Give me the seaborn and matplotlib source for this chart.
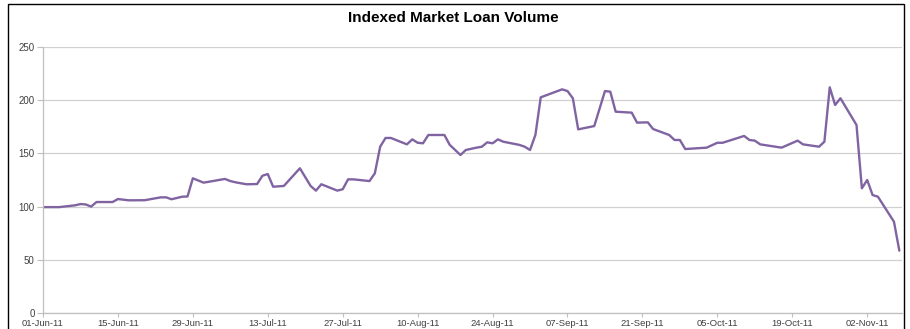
import matplotlib
matplotlib.use("Agg")
import matplotlib.pyplot as plt
import matplotlib.dates as mdates
import matplotlib.patches as mpatches
import pandas as pd
import seaborn as sns

# ---- data ----
dates = [
    "2011-06-01", "2011-06-04", "2011-06-07", "2011-06-08", "2011-06-09", "2011-06-10",
    "2011-06-11", "2011-06-14", "2011-06-15", "2011-06-17", "2011-06-20", "2011-06-23",
    "2011-06-24", "2011-06-25", "2011-06-27", "2011-06-28", "2011-06-29", "2011-07-01",
    "2011-07-05", "2011-07-06", "2011-07-07", "2011-07-09", "2011-07-11", "2011-07-12",
    "2011-07-13", "2011-07-14", "2011-07-16", "2011-07-19", "2011-07-21", "2011-07-22",
    "2011-07-23", "2011-07-26", "2011-07-27", "2011-07-28", "2011-07-29", "2011-08-01",
    "2011-08-02", "2011-08-03", "2011-08-04", "2011-08-05", "2011-08-08", "2011-08-09",
    "2011-08-10", "2011-08-11", "2011-08-12", "2011-08-15", "2011-08-16", "2011-08-18",
    "2011-08-19", "2011-08-21", "2011-08-22", "2011-08-23", "2011-08-24", "2011-08-25",
    "2011-08-26", "2011-08-29", "2011-08-30", "2011-08-31", "2011-09-01", "2011-09-02",
    "2011-09-06", "2011-09-07", "2011-09-08", "2011-09-09", "2011-09-12", "2011-09-14",
    "2011-09-15", "2011-09-16", "2011-09-19", "2011-09-20", "2011-09-22", "2011-09-23",
    "2011-09-26", "2011-09-27", "2011-09-28", "2011-09-29", "2011-10-03", "2011-10-05",
    "2011-10-06", "2011-10-10", "2011-10-11", "2011-10-12", "2011-10-13", "2011-10-17",
    "2011-10-20", "2011-10-21", "2011-10-24", "2011-10-25", "2011-10-26", "2011-10-27",
    "2011-10-28", "2011-10-31", "2011-11-01", "2011-11-02", "2011-11-03", "2011-11-04",
    "2011-11-07", "2011-11-08",
]
volume_index = [
    99.5, 99.5, 101.2, 102.4, 102.0, 100.0,
    104.3, 104.3, 107.1, 105.9, 106.0, 108.7,
    108.7, 106.9, 109.3, 109.5, 126.6, 122.5,
    126.0, 124.0, 122.8, 121.0, 121.2, 129.0,
    130.6, 118.7, 119.4, 136.0, 119.4, 115.0,
    121.0, 115.0, 116.3, 125.6, 125.6, 124.0,
    131.3, 156.3, 164.5, 164.5, 158.5, 163.2,
    160.0, 159.5, 167.3, 167.3, 158.0, 148.5,
    153.2, 155.4, 156.3, 160.4, 159.5, 163.2,
    161.0, 158.0, 156.3, 153.2, 167.3, 202.7,
    210.2, 208.6, 201.8, 172.6, 175.7, 208.6,
    208.0, 189.2, 188.3, 178.9, 179.2, 172.9,
    167.3, 162.6, 162.6, 154.1, 155.4, 160.0,
    160.0, 166.4, 162.6, 162.0, 158.5, 155.4,
    162.0, 158.5, 156.3, 161.0, 212.1, 195.5,
    201.8, 176.7, 117.2, 125.0, 110.9, 109.3,
    85.8, 58.6,
]
tick_dates = ["2011-06-01", "2011-06-15", "2011-06-29", "2011-07-13", "2011-07-27",
              "2011-08-10", "2011-08-24", "2011-09-07", "2011-09-21", "2011-10-05",
              "2011-10-19", "2011-11-02"]
y_ticks = [0, 50, 100, 150, 200, 250]
title = "Indexed Market Loan Volume"

df = pd.DataFrame({"date": pd.to_datetime(dates), "value": volume_index})

sns.set_theme(style="white")
plt.rcParams["font.family"] = ["Liberation Sans", "DejaVu Sans"]

fig = plt.figure(figsize=(9.10, 3.29), dpi=100)
ax = fig.add_axes([43 / 910, 1 - 313 / 329, (902 - 43) / 910, (313 - 47) / 329])

sns.lineplot(data=df, x="date", y="value", ax=ax, color="#8064A2", linewidth=1.7)

ax.set_ylim(0, 250)
ax.set_yticks(y_ticks)
ax.set_xlim(pd.Timestamp("2011-06-01"), pd.Timestamp("2011-11-08 12:00"))
ax.set_xticks(pd.to_datetime(tick_dates))
ax.xaxis.set_major_formatter(mdates.DateFormatter("%d-%b-%y"))

ax.grid(axis="y", color="#d0d0d0", linewidth=0.9)
ax.grid(axis="x", visible=False)
ax.set_axisbelow(True)
for side in ["top", "right"]:
    ax.spines[side].set_visible(False)
for side in ["left", "bottom"]:
    ax.spines[side].set_color("#bfbfbf")
    ax.spines[side].set_linewidth(0.9)

ax.tick_params(axis="y", which="major", direction="out", length=4, width=0.8,
               color="#bfbfbf", labelsize=7, labelcolor="#404040", pad=2, left=True)
ax.tick_params(axis="x", which="major", direction="out", length=3, width=0.8,
               color="#bfbfbf", labelsize=6.8, labelcolor="#404040", pad=1, bottom=True)
ax.set_xlabel("")
ax.set_ylabel("")
if ax.get_legend() is not None:
    ax.get_legend().remove()

fig.text(453 / 910, 1 - 18 / 329, title, ha="center", va="center",
         fontsize=11, fontweight="bold", color="#000000")

border = mpatches.Rectangle((8 / 910, -0.05), (904 - 8) / 910, 1.05 - 4 / 329,
                            transform=fig.transFigure, fill=False,
                            edgecolor="#000000", linewidth=1.0)
fig.patches.append(border)

fig.savefig("out.png", dpi=100)
